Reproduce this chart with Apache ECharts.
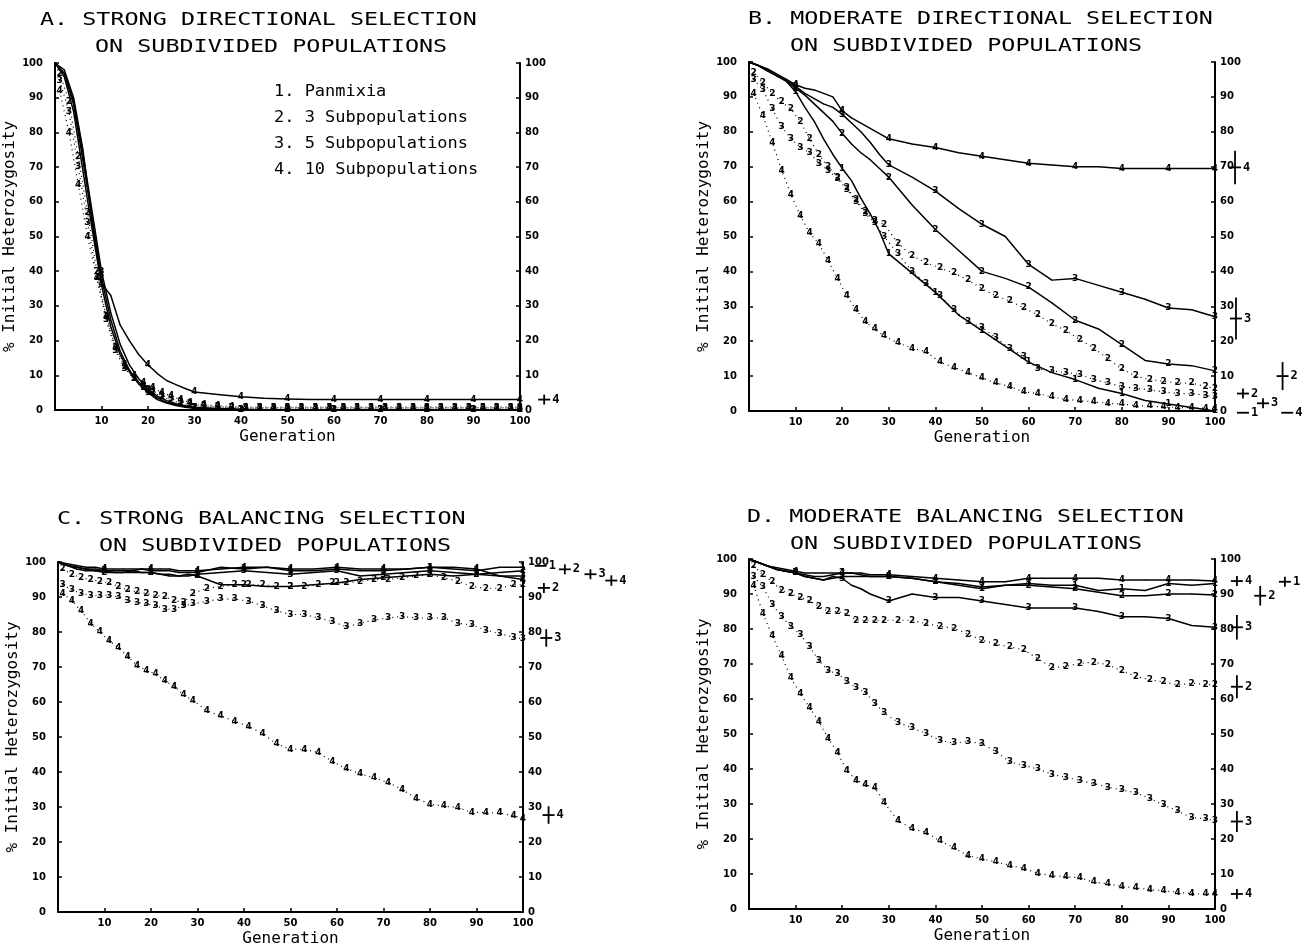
<!DOCTYPE html>
<html><head><meta charset="utf-8">
<script src="https://cdn.jsdelivr.net/npm/echarts@6/dist/echarts.min.js"></script>
<style>html,body{margin:0;padding:0;background:#fff}#c{width:1307px;height:944px}</style>
</head><body><div id="c"></div>
<script>
// ---- generations ----
const genSolid = [0,2,4,6,8,10,12,14,16,18,20,22,24,26,28,30,35,40,45,50,55,60,65,70,75,80,85,90,95,100];
const genDot = [1,3,5,7,9,11,13,15,17,19,21,23,25,27,29,32,35,38,41,44,47,50,53,56,59,62,65,68,71,74,77,80,83,86,89,92,95,98,100];

// ---- A. strong directional ----
const aSolid1 = [100,96,86,69,52,36,24,16,11,7.5,5,3,2,1.3,0.8,0.5,0.2,0.1,0,0,0,0,0,0,0,0,0,0,0,0];
const aSolid2 = [100,97,88,72,55,38,26,17,11.5,8,5.5,3.5,2.2,1.5,1,0.6,0.3,0.1,0,0,0,0,0,0,0,0,0,0,0,0];
const aSolid3 = [100,97,89,74,57,40,28,19,13,9,6,4,2.7,1.8,1.2,0.8,0.4,0.2,0.1,0,0,0,0,0,0,0,0,0,0,0];
const aSolid4 = [100,98,90,75,54,36.5,33,24.5,20,16,13,10.5,8.5,7.3,6.2,5.2,4.5,3.8,3.4,3.2,3,3,3,3,3,3,3,3,3,3];
const aDot2 = [97,89,73,57,40,27,18,12.5,9,6.5,5,3.8,2.8,2,1.5,1,0.8,0.6,0.5,0.5,0.5,0.5,0.5,0.5,0.5,0.5,0.5,0.5,0.5,0.5,0.5,0.5,0.5,0.5,0.5,0.5,0.5,0.5,0.5];
const aDot3 = [95,86,70,54,38,26,17,12,9,7,5.5,4.2,3.2,2.4,1.8,1.2,0.9,0.7,0.6,0.6,0.6,0.6,0.6,0.6,0.6,0.6,0.6,0.6,0.6,0.6,0.6,0.6,0.6,0.6,0.6,0.6,0.6,0.6,0.6];
const aDot4 = [92,80,65,50,38,27,18,13,10,8,6.5,5,4,3,2.2,1.5,1.2,1,0.8,0.8,0.8,0.8,0.8,0.8,0.8,0.8,0.8,0.8,0.8,0.8,0.8,0.8,0.8,0.8,0.8,0.8,0.8,0.8,0.8];
const aEnds = [[105.2,3,1,4]];

// ---- B. moderate directional ----
const bSolid1 = [100,99,97.5,96,94.5,91.5,87,83,78,73.5,69.5,66,61,56.5,51.5,45,39.5,34,27.5,23,18.5,14,11,9,6.5,5,3,2,1,0];
const bSolid2 = [100,99,97.5,96,94.5,92.5,90.5,88,85.5,83,79.5,76.5,74,72,69.5,67,59,52,46,40,38,35.5,31,26,23.5,19,14.5,13.5,13,11.5];
const bSolid3 = [100,99,97.5,96,95,93,91,89.5,88,87,85,82.5,80,77,73.5,70.5,67,63,58,53.5,50,42,37.5,38,36,34,32,29.5,29,27];
const bSolid4 = [100,99,98,96.5,95,93.5,92.5,92,91,90,86,84,82.5,81,79.5,78,76.5,75.5,74,73,72,71,70.5,70,70,69.5,69.5,69.5,69.5,69.5];
const bDot2 = [97,94,91,88.5,86.5,83,78,73.5,70,67,64,60.5,57,54.5,53.5,48,44.5,42.5,41,39.5,37.5,35,33,31.5,29.5,27.5,25,23,20.5,18,15,12,10,9,8.5,8,8,7,6.5];
const bDot3 = [95,92,86.5,81.5,78,75.5,74,71,69,66.5,63.5,60,56.5,54,50,45,40,36.5,33,29,25.5,24,21,18,15.5,12,11.5,11,10.5,9,8,7,6.5,6,5.5,5,5,4.5,4];
const bDot4 = [91,84.5,77,69,62,56,51,48,43,38,33,29,25.5,23.5,21.5,19.5,18,17,14,12.5,11,9.5,8,7,5.5,5,4,3.3,3,2.6,2.2,2,1.6,1.4,1.2,1,0.9,0.8,0.7];
const bEnds = [[104.3,69.8,4.8,4],[104.5,26.5,6,3],[114.5,10,4,2],[106,5,0.8,2],[110.3,2.2,0.8,3],[106,-0.5,0,1],[115.5,-0.5,0,4]];

// ---- C. strong balancing ----
const cSolid1 = [100,99,98.5,98,98,97.5,97.5,97.5,97.5,98,97.5,97.5,97.5,97,97,97,98.5,98,98.5,97.5,97.5,98,97.5,97.5,98,98.5,98,97.5,98.5,98.5];
const cSolid2 = [100,99,98,97.5,97.5,97,97,97,97.5,97,97,96.5,96,96,96.5,96,93.5,93.5,93,93,93.5,94,95,95.5,96,96.5,96,96.5,97,97.5];
const cSolid3 = [100,99,98.5,98,97.5,97.5,97,97,97,97,97,96.5,96.5,96,96,96.5,97,97.5,97,96.5,97,97.5,96,96.5,97,97.5,97,96.5,96,96];
const cSolid4 = [100,99.5,99,98.5,98.5,98,98,98,98,98,98,98,98,97.5,97.5,97.5,98,98.5,98.5,98,98,98.5,98,98,98,98.5,98.5,98,96,95];
const cDot2 = [98,96.5,95.5,95,94.5,94,93,92,91.5,91,90.5,90,89,88.5,91,92.5,93,93.5,93.5,93.5,93,93,93,93.5,94,94,94.5,95,95,95.5,96,96.3,95.5,94.5,93,92.5,92.5,93.5,93.5];
const cDot3 = [93.5,92,91,90.5,90.5,90.5,90,89,88.5,88,87.5,86.5,86.5,87.5,88,88.8,89.4,89.4,88.8,87.5,86,85,85,84,83,81.5,82.5,83.5,84,84.5,84,84,84,82.5,82,80.5,79.5,78.5,78];
const cDot4 = [91,89,86,82.5,80,77.5,75.5,73,70.5,69,68,66,64.5,62,60.5,57.5,56,54.5,53,51,48,46.5,46.5,45.5,43,41,39.5,38.3,37,35,32.5,30.8,30.3,29.8,28.5,28.4,28.3,27.5,26.7];
const cEnds = [[103.8,98.9,0,1],[109,97.9,0.8,2],[114.5,96.5,0.8,3],[119,94.7,1.5,4],[104.5,92.6,1.2,2],[105,78.3,2.5,3],[105.5,27.7,2.5,4]];

// ---- D. moderate balancing ----
const dSolid1 = [100,99,98,97,96.5,96,95,94.5,94,94.5,95,95,95,95,95,95,94.5,93.5,92.5,91.5,92.5,93,92.5,92.5,91,91.5,91,93,92.5,93];
const dSolid2 = [100,99,98,97,96.5,96,95.5,95,95,95.5,96,96,95.5,95,95,95,94.5,93.5,93,92,92.5,92.5,92,91.5,90.5,89.5,89.5,90,90,89.7];
const dSolid3 = [100,99,98,97,96.5,96,95,94.5,94,95,94.5,92.5,91.5,90,89,88,90,89,89,88,87,86,86,86,85,83.5,83.5,83,81,80.5];
const dSolid4 = [100,99,98,97.5,97,96.5,96,96,96,96,96,96,96,95.5,95.5,95.5,95,94.5,94,93.5,93.5,94.5,94.5,94.5,94.5,94,94,94,94,93.7];
const dDot2 = [98,95.5,93.5,91,90,89,88,86.5,85,85,84.3,82.5,82.5,82.5,82.5,82.5,82.5,81.5,80.8,80.2,78.5,76.8,75.7,74.9,74,71.5,69,69.3,70.2,70.5,69.8,68,66.5,65.5,64.9,64,64.5,64.2,64];
const dDot3 = [95,92,87,83.5,80.8,78.5,75,71,68,67.3,65,63.2,61.8,58.8,56,53.3,51.8,50.1,48.2,47.4,47.9,47.2,45,42,41,40,38.5,37.6,36.8,35.8,34.8,34,33.2,31.6,29.7,28,26.1,25.8,25.1];
const dDot4 = [92.5,84.4,78,72.3,66,61.5,57.6,53.5,48.8,44.7,39.5,36.8,35.5,34.7,30.5,25.2,22.9,21.9,19.4,17.5,15.2,14.4,13.4,12.5,11.6,10.2,9.5,9.3,8.9,7.7,7.2,6.5,6,5.6,5.2,4.8,4.4,4.3,4.3];
const dEnds = [[104.7,93.7,1,4],[109.7,89.5,2.8,2],[115,93.5,1,1],[104.7,80.5,3.5,3],[104.7,63.5,3.3,2],[104.7,25,3,3],[104.7,4.3,0.7,4]];

// ---- texts ----
const titles = [
  ['A. STRONG DIRECTIONAL SELECTION','ON SUBDIVIDED POPULATIONS'],
  ['B. MODERATE DIRECTIONAL SELECTION','ON SUBDIVIDED POPULATIONS'],
  ['C. STRONG BALANCING SELECTION','ON SUBDIVIDED POPULATIONS'],
  ['D. MODERATE BALANCING SELECTION','ON SUBDIVIDED POPULATIONS']
];
const legendLines = ['1. Panmixia','2. 3 Subpopulations','3. 5 Subpopulations','4. 10 Subpopulations'];
const xName = 'Generation';
const yName = '% Initial Heterozygosity';

// ---- layout ----
const grids = [
  {left:55, top:63, width:465, height:347},
  {left:749, top:62, width:466, height:349},
  {left:58, top:562, width:465, height:350},
  {left:749, top:559, width:466, height:350}
];
const titlePos = [[40,20,95,47],[748,19,790,46],[57,519,99,546],[747,517,790,544]];
const MONO = '"DejaVu Sans Mono", monospace';

const option = {
  animation:false,
  backgroundColor:'#fff',
  grid: grids.map(g => Object.assign({containLabel:false, outerBoundsMode:'none'}, g)),
  xAxis: grids.map((g,i) => ({
    type:'value', gridIndex:i, min:0, max:100, interval:10,
    name:xName, nameLocation:'middle', nameGap:19,
    nameTextStyle:{fontFamily:MONO, fontSize:16, color:'#000'},
    axisLine:{show:true, lineStyle:{color:'#000', width:2}},
    axisTick:{show:true, inside:true, length:4, lineStyle:{color:'#000', width:1.5}},
    axisLabel:{formatter:v => v===0 ? '' : String(v), fontSize:10, fontWeight:'bold', color:'#000', margin:6, fontFamily:'DejaVu Sans'},
    splitLine:{show:false}
  })),
  yAxis: [].concat(...grids.map((g,i) => [
    {type:'value', gridIndex:i, min:0, max:100, interval:10, position:'left',
     name:yName, nameLocation:'middle', nameGap:29, nameRotate:90,
     nameTextStyle:{fontFamily:MONO, fontSize:16, color:'#000'},
     axisLine:{show:true, lineStyle:{color:'#000', width:2}},
     axisTick:{show:true, inside:true, length:4, lineStyle:{color:'#000', width:1.5}},
     axisLabel:{fontSize:10, fontWeight:'bold', color:'#000', margin:12, fontFamily:'DejaVu Sans'},
     splitLine:{show:false}},
    {type:'value', gridIndex:i, min:0, max:100, interval:10, position:'right',
     axisLine:{show:true, lineStyle:{color:'#000', width:2}},
     axisTick:{show:true, inside:true, length:4, lineStyle:{color:'#000', width:1.5}},
     axisLabel:{fontSize:10, fontWeight:'bold', color:'#000', margin:5, fontFamily:'DejaVu Sans'},
     splitLine:{show:false}}
  ])),
  graphic: [].concat(
    ...titles.map((t,i) => [
      {type:'text', x:titlePos[i][0], y:titlePos[i][1], scaleX:1.3, style:{text:t[0], font:'18px '+MONO, fill:'#000', verticalAlign:'middle'}},
      {type:'text', x:titlePos[i][2], y:titlePos[i][3], scaleX:1.3, style:{text:t[1], font:'18px '+MONO, fill:'#000', verticalAlign:'middle'}}
    ]),
    legendLines.map((s,k) => ({type:'text', x:274, y:92+k*26, scaleX:1.06, style:{text:s, font:'16px '+MONO, fill:'#000', verticalAlign:'middle'}}))
  ),
  series: []
};

function solid(gi, vals, tag) {
  return {type:'line', xAxisIndex:gi, yAxisIndex:gi*2, silent:true, z:3,
    data: genSolid.map((x,i) => [x, vals[i]]),
    symbol:'circle', symbolSize:1, showSymbol:true,
    lineStyle:{color:'#000', width:1.5}, itemStyle:{color:'#000'},
    label:{show:true, position:'inside', fontSize:9, fontWeight:'bold', color:'#000', fontFamily:'DejaVu Sans',
      formatter: p => (p.value[0] > 0 && p.value[0] % 10 === 0) ? tag : ''}};
}
function dotted(gi, vals, tag) {
  return {type:'line', xAxisIndex:gi, yAxisIndex:gi*2, silent:true, z:4,
    data: genDot.map((x,i) => [x, vals[i]]),
    symbol:'circle', symbolSize:1, showSymbol:true,
    lineStyle:{color:'#000', width:1.2, type:[1,4]}, itemStyle:{color:'#000'},
    label:{show:true, position:'inside', fontSize:9, fontWeight:'bold', color:'#000', fontFamily:'DejaVu Sans',
      formatter: () => tag}};
}
function ends(gi, rows) {
  return {type:'custom', xAxisIndex:gi, yAxisIndex:gi*2, clip:false, silent:true, z:5,
    data: rows,
    renderItem(params, api) {
      const x = api.value(0), y = api.value(1), e = api.value(2), n = api.value(3);
      const c = api.coord([x, y]);
      const t = api.coord([x, y + e])[1], b = api.coord([x, y - e])[1];
      const kids = [{type:'line', shape:{x1:c[0]-6, y1:c[1], x2:c[0]+6, y2:c[1]}, style:{stroke:'#000', lineWidth:1.8}}];
      if (e > 0) kids.push({type:'line', shape:{x1:c[0], y1:Math.min(t, c[1]-5), x2:c[0], y2:Math.max(b, c[1]+5)}, style:{stroke:'#000', lineWidth:1.8}});
      kids.push({type:'text', x:c[0]+8, y:c[1], style:{text:String(n), fill:'#000', font:'bold 12px '+MONO, verticalAlign:'middle', align:'left'}});
      return {type:'group', children:kids};
    }};
}

const panels = [
  [aSolid1,aSolid2,aSolid3,aSolid4,aDot2,aDot3,aDot4,aEnds],
  [bSolid1,bSolid2,bSolid3,bSolid4,bDot2,bDot3,bDot4,bEnds],
  [cSolid1,cSolid2,cSolid3,cSolid4,cDot2,cDot3,cDot4,cEnds],
  [dSolid1,dSolid2,dSolid3,dSolid4,dDot2,dDot3,dDot4,dEnds]
];
panels.forEach((p, gi) => {
  option.series.push(solid(gi,p[0],'1'), solid(gi,p[1],'2'), solid(gi,p[2],'3'), solid(gi,p[3],'4'));
  option.series.push(dotted(gi,p[4],'2'), dotted(gi,p[5],'3'), dotted(gi,p[6],'4'));
  option.series.push(ends(gi,p[7]));
});

const chart = echarts.init(document.getElementById('c'), null, {renderer:'canvas'});
chart.setOption(option);
</script>
</body></html>
